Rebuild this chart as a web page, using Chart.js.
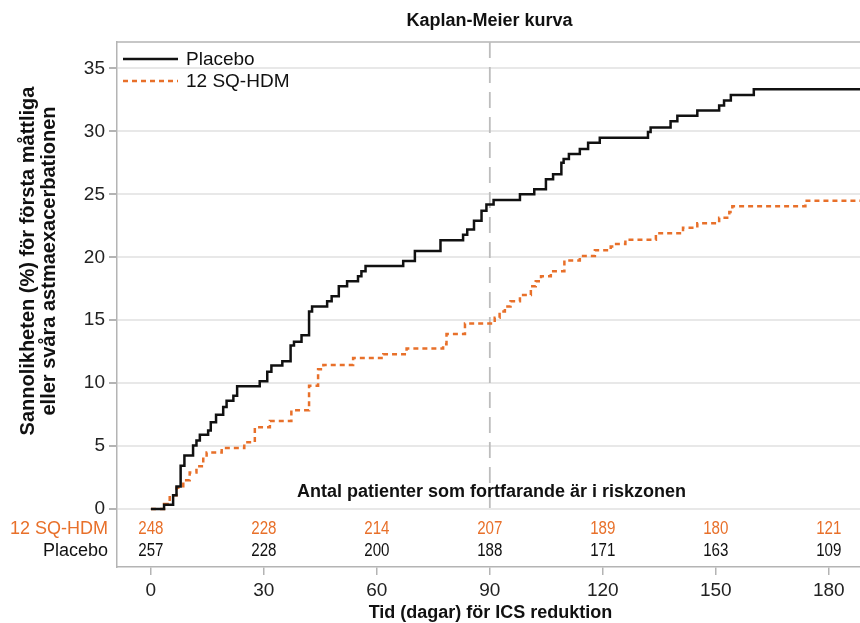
<!DOCTYPE html>
<html>
<head>
<meta charset="utf-8">
<title>Kaplan-Meier kurva</title>
<script src="https://cdn.jsdelivr.net/npm/chart.js@4.4.1/dist/chart.umd.min.js"></script>
<style>
  html, body { margin: 0; padding: 0; background: #fff; }
  .chart-wrap { position: relative; width: 860px; height: 623px; }
</style>
</head>
<body>
<div class="chart-wrap"><canvas id="km-chart"></canvas></div>
<script>
// tick labels
const TIME_TICKS = [0, 30, 60, 90, 120, 150, 180];
const PCT_TICKS = [0, 5, 10, 15, 20, 25, 30, 35];
const SERIES = ['Placebo', '12 SQ-HDM'];
const REF_DAY = 90;

// step points (day, cumulative %)
const placeboDays = [0, 3.5, 5.9, 6.8, 7.9, 8.9, 11.2, 12.1, 13.0, 15.2, 15.9, 17.3, 19.2, 20.1, 21.9, 22.9, 28.9, 30.9, 32.0, 34.9, 37.1, 38.0, 40.0, 42.0, 42.8, 46.8, 48.0, 49.9, 52.1, 55.0, 55.9, 57.0, 67.0, 70.1, 76.9, 82.9, 84.0, 85.8, 87.8, 89.1, 91.0, 98.0, 101.8, 104.9, 106.8, 109.0, 109.6, 111.0, 113.9, 116.1, 119.2, 132.0, 132.7, 138.0, 139.8, 145.1, 150.9, 152.2, 154.0, 160.1, 188.3];
const placeboPct = [0, 0.35, 1.1, 1.8, 3.45, 4.25, 5.05, 5.45, 5.9, 6.25, 6.9, 7.5, 8.1, 8.6, 9.0, 9.75, 10.15, 10.9, 11.4, 11.75, 13.0, 13.3, 13.8, 15.7, 16.1, 16.5, 16.9, 17.7, 18.1, 18.5, 18.9, 19.3, 19.7, 20.5, 21.35, 21.8, 22.2, 22.9, 23.7, 24.2, 24.55, 25.0, 25.4, 26.2, 26.6, 27.5, 27.8, 28.2, 28.6, 29.1, 29.5, 29.95, 30.3, 30.8, 31.25, 31.65, 32.05, 32.45, 32.9, 33.35, 33.35];

const hdmDays = [0, 3.5, 5.0, 6.8, 8.6, 10.3, 12.1, 13.9, 14.8, 18.8, 24.8, 27.6, 31.6, 37.3, 42.0, 44.4, 45.8, 53.7, 61.7, 67.9, 77.6, 78.5, 83.4, 91.3, 92.6, 94.0, 95.5, 98.0, 100.9, 102.2, 103.6, 106.2, 109.8, 113.9, 117.9, 122.1, 123.2, 126.0, 134.1, 141.3, 145.1, 150.9, 153.6, 154.4, 173.8, 188.3];
const hdmPct = [0, 0.4, 1.1, 1.7, 2.3, 2.9, 3.4, 4.0, 4.5, 4.85, 5.3, 6.5, 7.0, 7.85, 9.8, 11.1, 11.45, 12.0, 12.3, 12.75, 13.1, 13.9, 14.75, 15.2, 15.7, 16.1, 16.5, 17.0, 17.7, 18.1, 18.5, 18.9, 19.75, 20.1, 20.55, 20.85, 21.05, 21.4, 21.9, 22.35, 22.7, 23.15, 23.6, 24.05, 24.5, 24.5];

// number at risk at each time tick
const riskHdm = [248, 228, 214, 207, 189, 180, 121];
const riskPlacebo = [257, 228, 200, 188, 171, 163, 109];

(function () {
  'use strict';

  const FONT = "'Liberation Sans', Arial, sans-serif";
  const ORANGE = '#e8702a';
  const BLACK = '#111111';
  const FRAME = '#b4b4b4';
  const X_MIN = -9, X_MAX = 188.3;
  const Y_MIN = -4.6, Y_MAX = 37.1;

  function toPoints(days, pct) {
    return days.map(function (d, i) { return { x: d, y: pct[i] }; });
  }

  const kmText = {
    id: 'kmText',
    beforeDatasetsDraw(chart) {
      const ctx = chart.ctx;
      const a = chart.chartArea;
      ctx.save();
      ctx.strokeStyle = FRAME;
      ctx.lineWidth = 1.5;
      ctx.beginPath();
      ctx.moveTo(a.left, a.top);
      ctx.lineTo(a.right, a.top);
      ctx.stroke();
      ctx.restore();
    },
    afterDraw(chart) {
      const ctx = chart.ctx;
      const a = chart.chartArea;
      const xs = chart.scales.x;
      const ys = chart.scales.y;
      const zeroY = ys.getPixelForValue(0);
      const midX = (a.left + a.right) / 2;

      ctx.save();
      ctx.textBaseline = 'middle';

      // title
      ctx.fillStyle = BLACK;
      ctx.textAlign = 'center';
      ctx.font = 'bold 18px ' + FONT;
      ctx.fillText('Kaplan-Meier kurva', midX + 1, 21);

      // x axis title
      ctx.fillText('Tid (dagar) för ICS reduktion', midX + 2, 613);

      // y axis title, two lines
      ctx.save();
      ctx.translate(28, 261);
      ctx.rotate(-Math.PI / 2);
      ctx.font = 'bold 20px ' + FONT;
      ctx.fillText('Sannolikheten (%) för första måttliga', 0, 0);
      ctx.fillText('eller svåra astmaexacerbationen', 0, 21);
      ctx.restore();

      // legend
      const legendColors = [BLACK, ORANGE];
      const legendDash = [[], [5, 4]];
      const legendWidth = [2.5, 2.5];
      ctx.font = '19px ' + FONT;
      ctx.textAlign = 'left';
      SERIES.forEach(function (name, i) {
        const ly = 59 + i * 22;
        ctx.save();
        ctx.strokeStyle = legendColors[i];
        ctx.lineWidth = legendWidth[i];
        ctx.setLineDash(legendDash[i]);
        ctx.beginPath();
        ctx.moveTo(a.left + 6, ly);
        ctx.lineTo(a.left + 61, ly);
        ctx.stroke();
        ctx.restore();
        ctx.fillStyle = BLACK;
        ctx.fillText(name, a.left + 69, ly + 1);
      });

      // number at risk
      ctx.textAlign = 'center';
      ctx.font = 'bold 18px ' + FONT;
      ctx.fillStyle = BLACK;
      ctx.fillText('Antal patienter som fortfarande är i riskzonen', midX + 3, zeroY - 17);

      const rows = [
        { label: SERIES[1], values: riskHdm, color: ORANGE, dy: 20 },
        { label: SERIES[0], values: riskPlacebo, color: BLACK, dy: 42 }
      ];
      rows.forEach(function (row) {
        const ry = zeroY + row.dy;
        ctx.fillStyle = row.color;
        ctx.textAlign = 'right';
        ctx.font = '18px ' + FONT;
        ctx.fillText(row.label, a.left - 9, ry);
        ctx.textAlign = 'center';
        row.values.forEach(function (v, i) {
          const px = xs.getPixelForValue(TIME_TICKS[i]);
          ctx.save();
          ctx.translate(px, ry);
          ctx.scale(0.84, 1);
          ctx.fillText(String(v), 0, 0);
          ctx.restore();
        });
      });

      ctx.restore();
    }
  };

  const ctx = document.getElementById('km-chart');

  new Chart(ctx, {
    type: 'line',
    data: {
      datasets: [
        {
          label: SERIES[0],
          data: toPoints(placeboDays, placeboPct),
          borderColor: BLACK,
          borderWidth: 2.5,
          stepped: true,
          pointRadius: 0,
          fill: false,
          order: 1
        },
        {
          label: SERIES[1],
          data: toPoints(hdmDays, hdmPct),
          borderColor: ORANGE,
          borderWidth: 2.5,
          borderDash: [5, 4],
          stepped: true,
          pointRadius: 0,
          fill: false,
          order: 2
        },
        {
          label: 'ref',
          data: [{ x: REF_DAY, y: Y_MAX }, { x: REF_DAY, y: 0 }],
          borderColor: '#bdbdbd',
          borderWidth: 1.8,
          borderDash: [16, 9],
          pointRadius: 0,
          fill: false,
          order: 3
        }
      ]
    },
    options: {
      responsive: true,
      maintainAspectRatio: false,
      animation: false,
      layout: {
        padding: { top: 42, left: 0, right: 0, bottom: 0 }
      },
      scales: {
        x: {
          type: 'linear',
          min: X_MIN,
          max: X_MAX,
          afterBuildTicks: function (scale) {
            scale.ticks = TIME_TICKS.map(function (v) { return { value: v }; });
          },
          afterFit: function (scale) { scale.height = 56; },
          grid: {
            drawOnChartArea: false,
            drawTicks: true,
            tickLength: 8,
            tickColor: FRAME,
            lineWidth: 1.5
          },
          border: { color: FRAME, width: 1.5 },
          ticks: {
            padding: 4,
            color: '#222',
            font: { family: FONT, size: 19 },
            maxRotation: 0
          }
        },
        y: {
          min: Y_MIN,
          max: Y_MAX,
          afterBuildTicks: function (scale) {
            scale.ticks = PCT_TICKS.map(function (v) { return { value: v }; });
          },
          afterFit: function (scale) { scale.width = 117; },
          grid: {
            color: '#e8e8e8',
            lineWidth: 2,
            tickLength: 8,
            tickColor: FRAME
          },
          border: { color: FRAME, width: 1.5 },
          ticks: {
            padding: 4,
            color: '#222',
            font: { family: FONT, size: 19 }
          }
        }
      },
      plugins: {
        legend: { display: false },
        tooltip: { enabled: false },
        title: { display: false }
      }
    },
    plugins: [kmText]
  });
})();
</script>
</body>
</html>
